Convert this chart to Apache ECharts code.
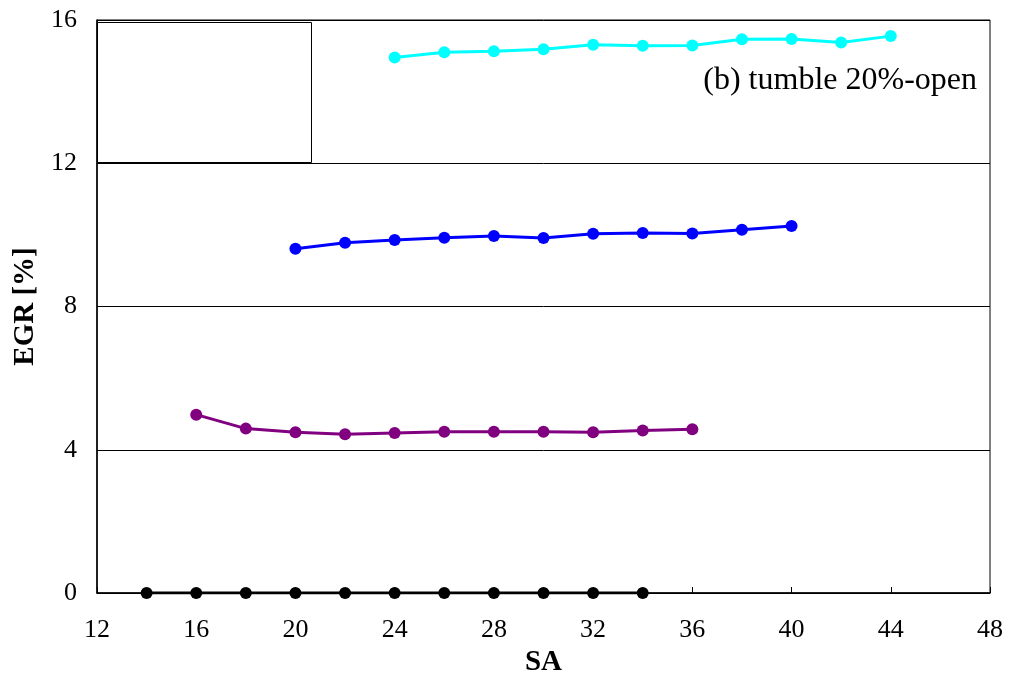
<!DOCTYPE html>
<html>
<head>
<meta charset="utf-8">
<script src="https://cdn.jsdelivr.net/npm/echarts@6/dist/echarts.min.js"></script>
<style>
  html, body { margin: 0; padding: 0; background: #fff; }
  #chart { width: 1010px; height: 682px; }
</style>
</head>
<body>
<div id="chart"></div>
<script>
// Spark advance (SA) vs EGR rate, four EGR levels
const saBlack  = [14, 16, 18, 20, 22, 24, 26, 28, 30, 32, 34];
const egrBlack = [0, 0, 0, 0, 0, 0, 0, 0, 0, 0, 0];

const saPurple  = [16, 18, 20, 22, 24, 26, 28, 30, 32, 34, 36];
const egrPurple = [4.98, 4.59, 4.49, 4.43, 4.47, 4.50, 4.50, 4.50, 4.49, 4.54, 4.57];

const saBlue  = [20, 22, 24, 26, 28, 30, 32, 34, 36, 38, 40];
const egrBlue = [9.61, 9.78, 9.86, 9.92, 9.97, 9.91, 10.03, 10.05, 10.04, 10.14, 10.25];

const saCyan  = [24, 26, 28, 30, 32, 34, 36, 38, 40, 42, 44];
const egrCyan = [14.95, 15.10, 15.13, 15.18, 15.31, 15.28, 15.29, 15.46, 15.47, 15.37, 15.55];

const xTicks = [12, 16, 20, 24, 28, 32, 36, 40, 44, 48];
const yTicks = [0, 4, 8, 12, 16];

const caseLabel = '(b) tumble 20%-open';
const xName = 'SA';
const yName = 'EGR [%]';

const serif = '"Liberation Serif", "DejaVu Serif", serif';

function pairs(xs, ys) { return xs.map((x, i) => [x, ys[i]]); }

function lineSeries(xs, ys, color) {
  return {
    type: 'line',
    data: pairs(xs, ys),
    symbol: 'circle',
    symbolSize: 12,
    lineStyle: { color: color, width: 3 },
    itemStyle: { color: color },
    emphasis: { disabled: true },
    animation: false,
    z: 3
  };
}

const chart = echarts.init(document.getElementById('chart'), null, { renderer: 'canvas' });

const grid = { left: 97, right: 20, top: 20, bottom: 89 };

chart.setOption({
  backgroundColor: '#fff',
  animation: false,
  grid: Object.assign({ show: true, borderColor: '#000', borderWidth: 1 }, grid),
  xAxis: {
    type: 'value',
    min: xTicks[0],
    max: xTicks[xTicks.length - 1],
    interval: 4,
    name: xName,
    nameLocation: 'middle',
    nameGap: 54,
    nameTextStyle: { fontFamily: serif, fontSize: 29, fontWeight: 'bold', color: '#000' },
    axisLine: { lineStyle: { color: '#000', width: 1.5 } },
    axisTick: { inside: true, length: 6, lineStyle: { color: '#000' } },
    axisLabel: { fontFamily: serif, fontSize: 26, color: '#000', margin: 24 },
    splitLine: { show: false }
  },
  yAxis: {
    type: 'value',
    min: yTicks[0],
    max: yTicks[yTicks.length - 1],
    interval: 4,
    name: yName,
    nameLocation: 'middle',
    nameGap: 57,
    nameRotate: 90,
    nameTextStyle: { fontFamily: serif, fontSize: 29, fontWeight: 'bold', color: '#000' },
    axisLine: { lineStyle: { color: '#000', width: 1.5 } },
    axisTick: { inside: true, length: 6, lineStyle: { color: '#000' } },
    axisLabel: { fontFamily: serif, fontSize: 26, color: '#000', margin: 20 },
    splitLine: { show: true, lineStyle: { color: '#000', width: 1 } }
  },
  series: [
    lineSeries(saBlack, egrBlack, '#000000'),
    lineSeries(saPurple, egrPurple, '#800080'),
    lineSeries(saBlue, egrBlue, '#0000ff'),
    lineSeries(saCyan, egrCyan, '#00ffff')
  ],
  graphic: [
    {
      type: 'rect',
      left: 97,
      top: 22,
      shape: { width: 214, height: 140 },
      style: { fill: '#fff', stroke: '#000', lineWidth: 1 },
      z: 10
    },
    {
      type: 'text',
      right: 33,
      top: 65,
      style: { text: caseLabel, font: '32px ' + serif, fill: '#000' },
      z: 10
    }
  ]
});
</script>
</body>
</html>
